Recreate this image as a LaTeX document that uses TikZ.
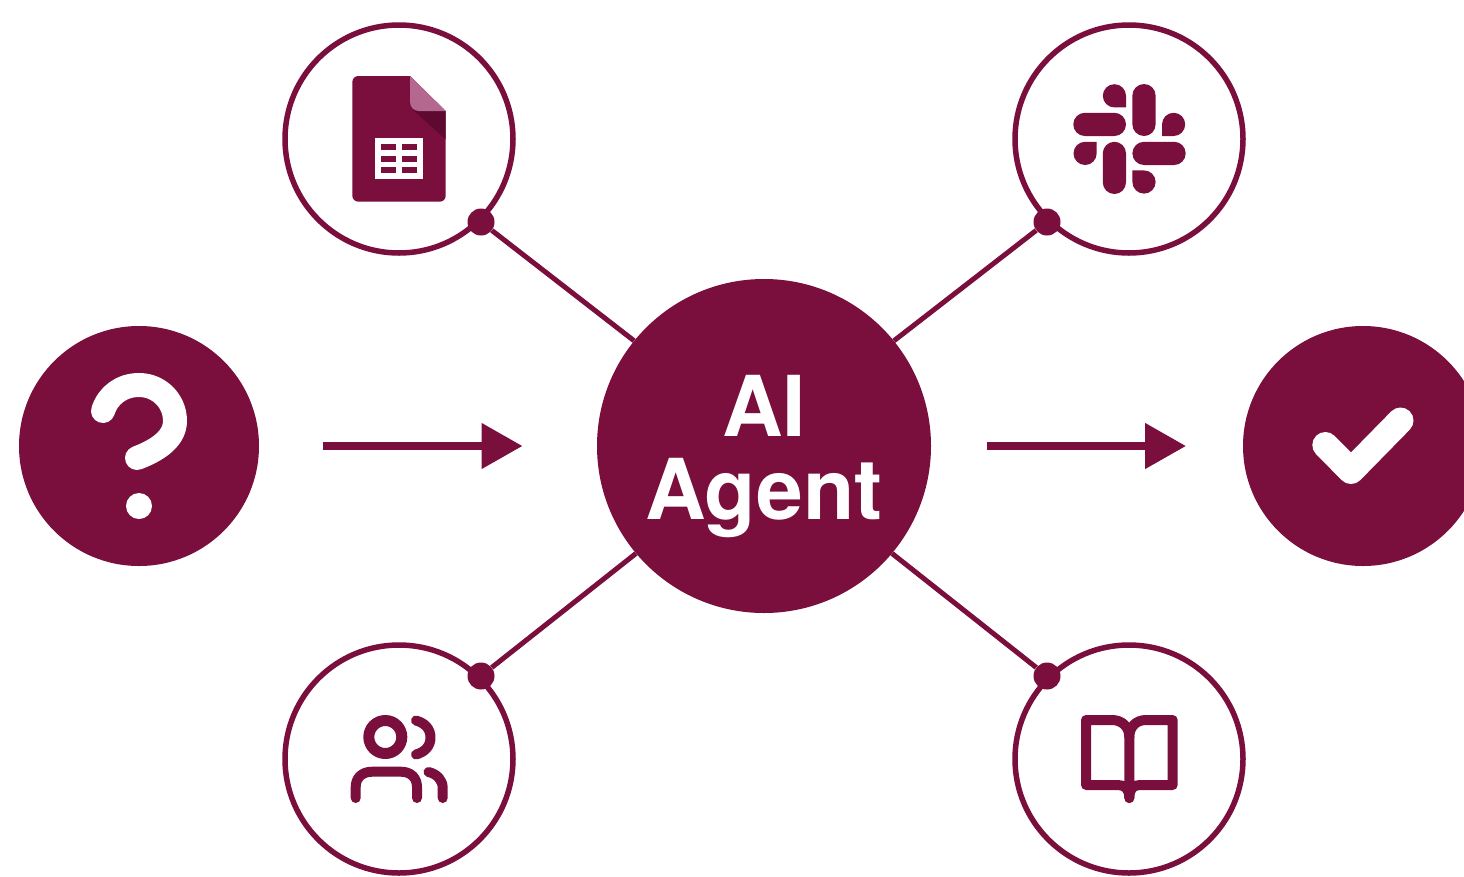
\documentclass[tikz,border=0pt]{standalone}
\usepackage{fontspec}
\setmainfont{TeX Gyre Heros}
\usetikzlibrary{arrows.meta}
\definecolor{wine}{HTML}{7A0E3C}
\definecolor{foldlight}{HTML}{B5688F}
\definecolor{folddark}{HTML}{5E0A30}
\tikzset{
  ring/.style={circle,draw=wine,line width=5.5pt,fill=white,inner sep=0pt,minimum size=228pt},
  solid disc/.style={circle,fill=wine,inner sep=0pt,minimum size=240pt},
  hubdisc/.style={circle,fill=wine,inner sep=0pt,minimum size=334pt},
  hubtext/.style={inner sep=0pt,text=white,align=center,font=\fontsize{84}{83}\selectfont\bfseries},
  pin/.style={circle,fill=wine,inner sep=0pt,minimum size=27pt},
  link/.style={draw=wine,line width=5pt},
  flow/.style={draw=wine,fill=wine,line width=8pt,-{Triangle[length=41pt,width=44pt]}},
  whitestroke/.style={draw=white,line width=24pt,line cap=round,line join=round},
  icon/.style={draw=wine,line width=10pt,line cap=round,line join=round},
  bookline/.style={draw=wine,line width=10pt,line cap=round,line join=round},
}
\newcommand{\hpill}[3]{\fill[wine,rounded corners=11.6pt] (#1,#3) rectangle (#2,#3+23.2);}
\newcommand{\vpill}[3]{\fill[wine,rounded corners=11.6pt] (#1,#2) rectangle (#1+23.2,#3);}
\begin{document}
\begin{tikzpicture}[x=1pt,y=-1pt]
\useasboundingbox (0,0) rectangle (1464,876);
\clip (0,0) rectangle (1464,876);
\fill[white] (0,0) rectangle (1464,876);
% main nodes
\node[ring] (sheet) at (399,139) {};
\node[ring] (slack) at (1129,139) {};
\node[ring] (users) at (399,759) {};
\node[ring] (book) at (1129,759) {};
\node[solid disc] (ask) at (139,446) {};
\node[solid disc] (done) at (1363,446) {};
\node[hubdisc] (hub) at (764,446) {};
\node[hubtext] (hublabel) at (764,457) {AI\\Agent};
\node[pin] (p1) at (481,222) {};
\node[pin] (p2) at (1047,222) {};
\node[pin] (p3) at (481,676) {};
\node[pin] (p4) at (1047,676) {};
\draw[link] (hub.141.2) -- (p1);
\draw[link] (hub.39) -- (p2);
\draw[link] (hub.220.3) -- (p3);
\draw[link] (hub.-40.3) -- (p4);
\coordinate (a1s) at (323,446);
\coordinate (a1e) at (522.5,446);
\coordinate (a2s) at (987,446);
\coordinate (a2e) at (1186,446);
\draw[flow] (a1s) -- (a1e);
\draw[flow] (a2s) -- (a2e);
% question mark
\draw[whitestroke] (103,411) .. controls (108,395) and (122,385) .. (139,385)
  .. controls (159,385) and (175,401) .. (175,421)
  .. controls (175,442) and (150,453) .. (137,458);
\fill[white] (139,506) circle (13pt);
% check
\draw[whitestroke,line width=26pt] (1325.3,445) -- (1351,471) -- (1400.5,420.5);
% sheets icon
\fill[wine] (358.3,76) -- (410,76) -- (445.7,111) -- (445.7,195.7) arc[start angle=0,end angle=90,radius=6] -- (358.3,201.7) arc[start angle=90,end angle=180,radius=6] -- (352.3,82) arc[start angle=180,end angle=270,radius=6] -- cycle;
\fill[folddark] (413,110) -- (445.7,111) -- (445.7,139.5) -- cycle;
\fill[foldlight] (410,76) -- (445.7,111) -- (419,111) .. controls (414,111) and (410,107) .. (410,102) -- cycle;
\fill[white] (375,137.7) rectangle (423.3,179);
\foreach \ya/\yb in {144/150.3,155.7/162,166.7/172.7}{
  \fill[wine] (381,\ya) rectangle (396,\yb);
  \fill[wine] (402.3,\ya) rectangle (417.3,\yb);
}
% slack icon
\vpill{1132.4}{84}{136}
\hpill{1073.3}{1126}{112.8}
\vpill{1102.8}{141.8}{194}
\hpill{1132.4}{1185.7}{141.8}
\fill[wine] (1126,107.4) -- (1126,95.8) arc[start angle=0,end angle=-270,radius=11.6] -- cycle;
\fill[wine] (1162,136) -- (1173.6,136) arc[start angle=90,end angle=-180,radius=11.6] -- cycle;
\fill[wine] (1096.7,141.8) -- (1096.7,153.4) arc[start angle=0,end angle=270,radius=11.6] -- cycle;
\fill[wine] (1132.4,170.4) -- (1144,170.4) arc[start angle=-90,end angle=180,radius=11.6] -- cycle;
% users icon
\draw[icon,line width=11pt] (385.3,737) circle (16.5pt);
\draw[icon] (416,720.5) .. controls (425,723) and (430.5,729) .. (430.5,737.5) .. controls (430.5,746) and (425,752) .. (416,754.5);
\draw[icon] (355.7,798) -- (355.7,787) .. controls (355.7,778) and (362,771.7) .. (372,771.7) -- (401,771.7) .. controls (411,771.7) and (417,778) .. (417,787) -- (417,798);
\draw[icon] (428.5,772) .. controls (437,774) and (442.7,780) .. (442.7,788) -- (442.7,798);
% book icon
\draw[bookline] (1129.3,798) -- (1129.3,737) .. controls (1129.3,727) and (1122,720) .. (1112,720) -- (1086,720) -- (1086,785) -- (1118,785) .. controls (1125,785) and (1129.3,789) .. (1129.3,798);
\draw[bookline] (1129.3,737) .. controls (1129.3,727) and (1136,720) .. (1146,720) -- (1172.7,720) -- (1172.7,785) -- (1140,785) .. controls (1133,785) and (1129.3,789) .. (1129.3,798);
\end{tikzpicture}
\end{document}
